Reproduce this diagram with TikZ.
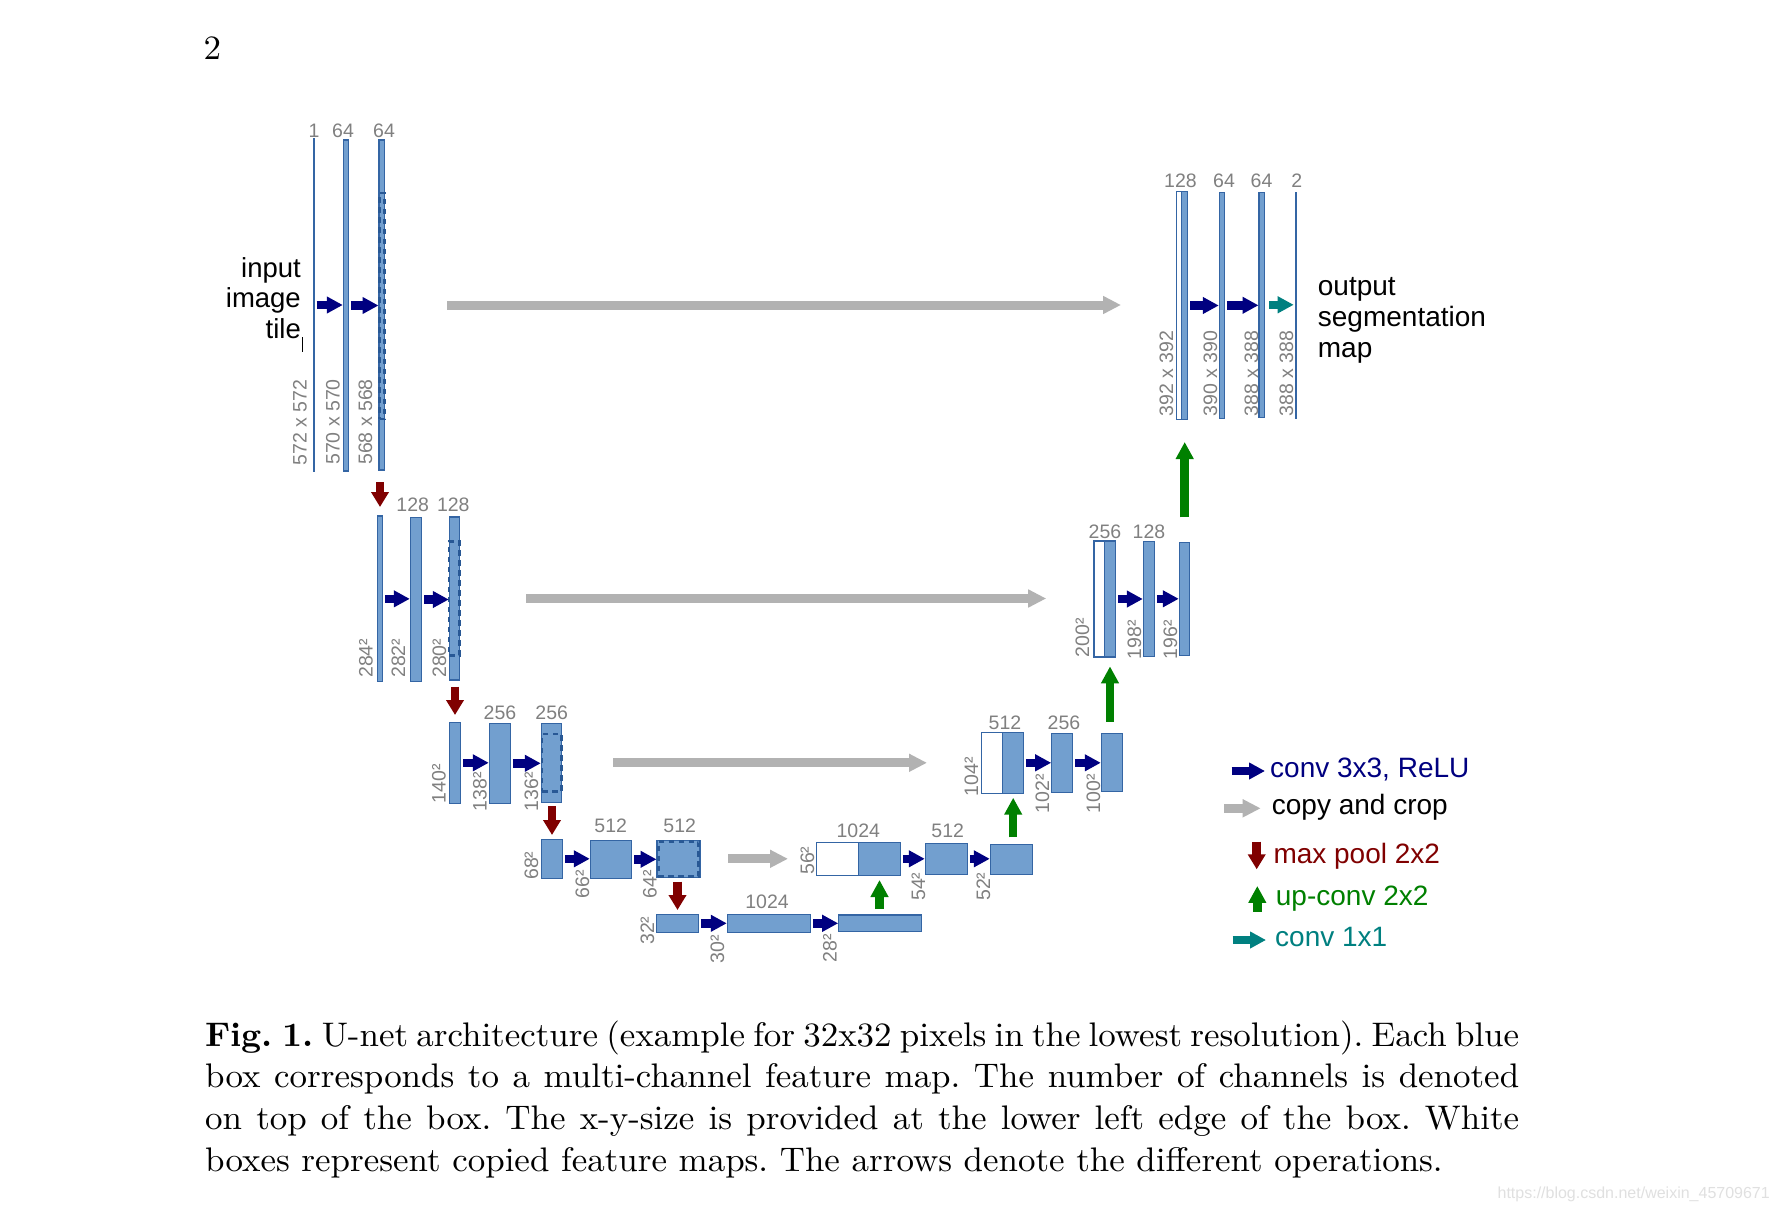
\documentclass[tikz,border=0pt]{standalone}
\usepackage{fontspec}
\newfontfamily\arialf{Liberation Sans}
\newfontfamily\capfont{lmroman10}[Extension=.otf,UprightFont=*-regular,BoldFont=*-bold,FakeStretch=1.025]
\usepackage{xcolor}
\usepackage{tikz}
\usetikzlibrary{arrows.meta}
\definecolor{mapfill}{HTML}{729FCF}
\definecolor{mapedge}{HTML}{3465A4}
\definecolor{cropedge}{HTML}{285895}
\definecolor{convcol}{HTML}{000080}
\definecolor{cpycol}{HTML}{B2B2B2}
\definecolor{poolcol}{HTML}{800000}
\definecolor{upcol}{HTML}{008000}
\definecolor{fincol}{HTML}{008080}
\definecolor{lblgray}{HTML}{808080}

\begin{document}
\begin{tikzpicture}[x=1pt,y=-1pt,
      fmap/.style={draw=mapedge,fill=mapfill,line width=1.3pt,inner sep=0pt,outer sep=0pt,anchor=north west},
      cmap/.style={fmap,fill=white},
      wh/.style 2 args={minimum width=#1pt,minimum height=#2pt},
      crop/.style={draw=cropedge,line width=2.8pt,dash pattern=on 5.5pt off 4.5pt,inner sep=0pt,outer sep=0pt,anchor=north west},
      ch/.style={font=\arialf\fontsize{19.5}{20}\selectfont,text=lblgray,inner sep=0pt},
      sz/.style={ch,rotate=90,anchor=base west},
      big/.style={font=\arialf\fontsize{28}{31}\selectfont,inner sep=0pt},
      conv/.style={draw=convcol,line width=8.5pt,-{Triangle[length=16pt,width=16pt]},shorten <=2.5pt,shorten >=0.5pt},
      fin/.style={conv,draw=fincol},
      cpy/.style={draw=cpycol,line width=9pt,-{Triangle[length=18pt,width=17pt]}},
      pool/.style={draw=poolcol,line width=8.5pt,-{Triangle[length=15pt,width=17pt]}},
      upc/.style={draw=upcol,line width=8.5pt,-{Triangle[length=17pt,width=17pt]}}]
    \path[fill=white,use as bounding box] (0,0) rectangle (1778,1212);
    \node[font=\capfont\fontsize{34.1}{40}\selectfont,anchor=base,inner sep=0pt] (pg) at (212.3,60) {2};

    % contracting path
    \node[fmap,wh={0.6}{332}] (e1a) at (313.4,139) {};
    \node[fmap,wh={5}{331}] (e1b) at (343.3,140) {};
    \node[fmap,wh={5.3}{330}] (e1c) at (379,140) {};
    \node[crop,wh={5}{226}] (c1) at (379.5,193) {};
    \node[fmap,wh={5.4}{165.7}] (e2a) at (377.3,516) {};
    \node[fmap,wh={11.4}{164.4}] (e2b) at (410.3,517.3) {};
    \node[fmap,wh={10.4}{163}] (e2c) at (449.3,517) {};
    \node[crop,wh={10.4}{114}] (c2) at (449,541.3) {};
    \node[fmap,wh={11.4}{81}] (e3a) at (449.3,722.3) {};
    \node[fmap,wh={21}{80}] (e3b) at (489.3,723.3) {};
    \node[fmap,wh={20.4}{79}] (e3c) at (541.3,723.3) {};
    \node[crop,wh={19.4}{57.4}] (c3) at (542,734) {};
    \node[fmap,wh={21.4}{39}] (e4a) at (541.3,839.3) {};
    \node[fmap,wh={41.4}{38}] (e4b) at (590.3,840.3) {};
    \node[fmap,wh={43}{37}] (e4c) at (657,840.3) {};
    \node[crop,wh={40.6}{34.6}] (c4) at (658.2,841.5) {};
    \node[fmap,wh={42.4}{18}] (e5a) at (656.3,914.3) {};
    \node[fmap,wh={83.4}{18}] (e5b) at (727.3,914.3) {};
    \node[fmap,wh={83}{16.3}] (e5c) at (838.7,915) {};

    % expansive path
    \node[cmap,wh={42.4}{33}] (d4w) at (816.3,842.3) {};
    \node[fmap,wh={41.6}{33}] (d4a) at (858.7,842.3) {};
    \node[fmap,wh={42.4}{31}] (d4b) at (925.3,843.3) {};
    \node[fmap,wh={42.4}{30}] (d4c) at (990.3,844.3) {};
    \node[cmap,wh={21.4}{61}] (d3w) at (981.3,732.3) {};
    \node[fmap,wh={21}{61}] (d3a) at (1002.7,732.3) {};
    \node[fmap,wh={21}{59}] (d3b) at (1051.7,733.3) {};
    \node[fmap,wh={21.4}{58.4}] (d3c) at (1101.3,733.3) {};
    \node[cmap,wh={10.5}{116}] (d2w) at (1094,541) {};
    \node[fmap,wh={11}{116}] (d2a) at (1104.5,541) {};
    \node[fmap,wh={11}{115}] (d2b) at (1143.3,541.3) {};
    \node[fmap,wh={10}{113}] (d2c) at (1179.3,542.3) {};
    \node[cmap,wh={5}{227.6}] (d1w) at (1176.7,191.7) {};
    \node[fmap,wh={6}{227.6}] (d1a) at (1181.7,191.7) {};
    \node[fmap,wh={5}{226}] (d1b) at (1219.3,192.3) {};
    \node[fmap,wh={5.7}{225}] (d1c) at (1259,192.3) {};
    \node[fmap,wh={0.6}{226}] (d1d) at (1295.7,192.3) {};

    % channel numbers
    \foreach \n/\x/\y/\t in {n1/314/130.5/1,n2/343/130.5/64,n3/384/130.5/64,
        n4/412.7/505/128,n5/453.3/505/128,n6/500/712.5/256,n7/551.7/712.5/256,
        n8/610.7/826/512,n9/679.7/826/512,n10/767/901.5/1024,
        n11/858.3/830.7/1024,n12/947.7/830.7/512,n13/1005/722.5/512,n14/1064/722.5/256,
        n15/1105/531.5/256,n16/1149/531.5/128,n17/1180.5/181/128,n18/1224/181/64,
        n19/1261.5/181/64,n20/1296.7/181/2}
      \node[ch] (\n) at (\x,\y) {\t};

    % x-y sizes
    \foreach \n/\x/\y/\t in {s1/306.5/465.5/572 x 572,s2/339.5/465/570 x 570,s3/372/465/568 x 568,
        s4/372.5/678/284²,s5/405/678/282²,s6/446/678/280²,
        s7/445.5/803.3/140²,s8/486.5/811.7/138²,s9/538/811.7/136²,
        s10/538/880/68²,s11/589/898.3/66²,s12/656.5/898.3/64²,
        s13/654/945/32²,s14/724/963.3/30²,s15/836.5/962.3/28²,
        s16/814/875/56²,s17/925/901/54²,s18/990/901/52²,
        s19/978/796.7/104²,s20/1049/813.3/102²,s21/1100/813.3/100²,
        s22/1089/657.3/200²,s23/1141/659.3/198²,s24/1177/659.3/196²,
        s25/1173/416.7/392 x 392,s26/1217/416.5/390 x 390,s27/1258/416.5/388 x 388,s28/1293/416.5/388 x 388}
      \node[sz] (\n) at (\x,\y) {\t};

    \foreach \a/\b in {e1a/e1b,e1b/e1c,e2a/e2b,e2b/e2c,e3a/e3b,e3b/e3c,e4a/e4b,e4b/e4c,
        e5a/e5b,e5b/e5c,d4a/d4b,d4b/d4c,d3a/d3b,d3b/d3c,d2a/d2b,d2b/d2c,d1a/d1b,d1b/d1c}
      \draw[conv] (\a.east) -- (\a.east -| \b.west);
    \draw[fin,shorten <=4.3pt,shorten >=2pt] (d1c.east) -- (d1c.east -| d1d.west);

    \foreach \a/\b/\s/\t in {e1c/e2a/12/9,e2c/e3a/6.7/7.3,e3c/e4a/3.7/4.3,e4c/e5a/4.4/4.3}
      \draw[pool,shorten <=\s pt,shorten >=\t pt] (\a.south -| \b.north) -- (\b.north);
    \foreach \a/\b/\s/\t in {e5c/d4a/6/4.7,d4c/d3a/7/4.4,d3c/d2a/11.6/9.4,d2c/d1a/25/22.7}
      \draw[upc,shorten <=\s pt,shorten >=\t pt] (\a.north -| \b.south) -- (\b.south);

    \draw[cpy,shorten <=62.7pt,shorten >=55.7pt] (e1c.east) -- (e1c.east -| d1w.west);
    \draw[cpy,shorten <=66.3pt,shorten >=47.8pt] (e2c.east) -- (e2c.east -| d2w.west);
    \draw[cpy,shorten <=51.6pt,shorten >=54.3pt] (e3c.east) -- (e3c.east -| d3w.west);
    \draw[cpy,shorten <=28.3pt,shorten >=28.3pt] (e4c.east) -- (e4c.east -| d4w.west);

    \node[big,font=\arialf\fontsize{27.5}{30}\selectfont,anchor=base east] (in1) at (301,277) {input};
    \node[big,font=\arialf\fontsize{27.5}{30}\selectfont,anchor=base east] (in2) at (301,307.5) {image};
    \node[big,font=\arialf\fontsize{27.5}{30}\selectfont,anchor=base east] (in3) at (301,338) {tile};
    \draw[line width=0.9pt] (302.7,337) -- (302.7,352);
    \node[big,anchor=base west] (out1) at (1317.7,295) {output};
    \node[big,anchor=base west] (out2) at (1317.7,326.3) {segmentation};
    \node[big,anchor=base west] (out3) at (1317.7,357) {map};

    % legend
    \node[big,text=convcol,anchor=base west] (lg1) at (1270,777) {conv 3x3, ReLU};
    \node[big,anchor=base west] (lg2) at (1271.7,814) {copy and crop};
    \node[big,text=poolcol,anchor=base west] (lg3) at (1273.3,863.3) {max pool 2x2};
    \node[big,text=upcol,anchor=base west] (lg4) at (1275.7,905.7) {up-conv 2x2};
    \node[big,text=fincol,anchor=base west] (lg5) at (1275,946.7) {conv 1x1};
    \coordinate (k1) at (1231.7,771);
    \coordinate (k2) at (1224,808.3);
    \coordinate (k3) at (1256.7,841.7);
    \coordinate (k4) at (1257.3,911.7);
    \coordinate (k5) at (1232.7,940);
    \draw[conv,shorten <=0pt,shorten >=5pt] (k1) -- (k1 -| lg1.west);
    \draw[cpy,shorten >=11pt] (k2) -- (k2 -| lg2.west);
    \draw[pool] (k3) -- (k3 |- lg3.south);
    \draw[upc] (k4) -- (k4 |- lg4.north);
    \draw[fin,shorten <=0pt,shorten >=9pt] (k5) -- (k5 -| lg5.west);

    \node[anchor=base west,text width=1314pt,align=justify,inner sep=0pt,
      font=\capfont\fontsize{34.1}{41.7}\selectfont\frenchspacing] (cap) at (205,1046)
      {\textbf{Fig.~1.} U-net architecture (example for 32x32 pixels in the lowest resolution). Each blue\linebreak
       box corresponds to a multi-channel feature map. The number of channels is denoted\linebreak
       on top of the box. The x-y-size is provided at the lower left edge of the box. White\linebreak
       boxes represent copied feature maps. The arrows denote the different operations.};
    \node[font=\arialf\fontsize{16}{16}\selectfont,text=black!12,anchor=base east,inner sep=0pt] (wm)
      at (1770,1198.5) {https://blog.csdn.net/weixin\_45709671};
  \end{tikzpicture}
\end{document}
